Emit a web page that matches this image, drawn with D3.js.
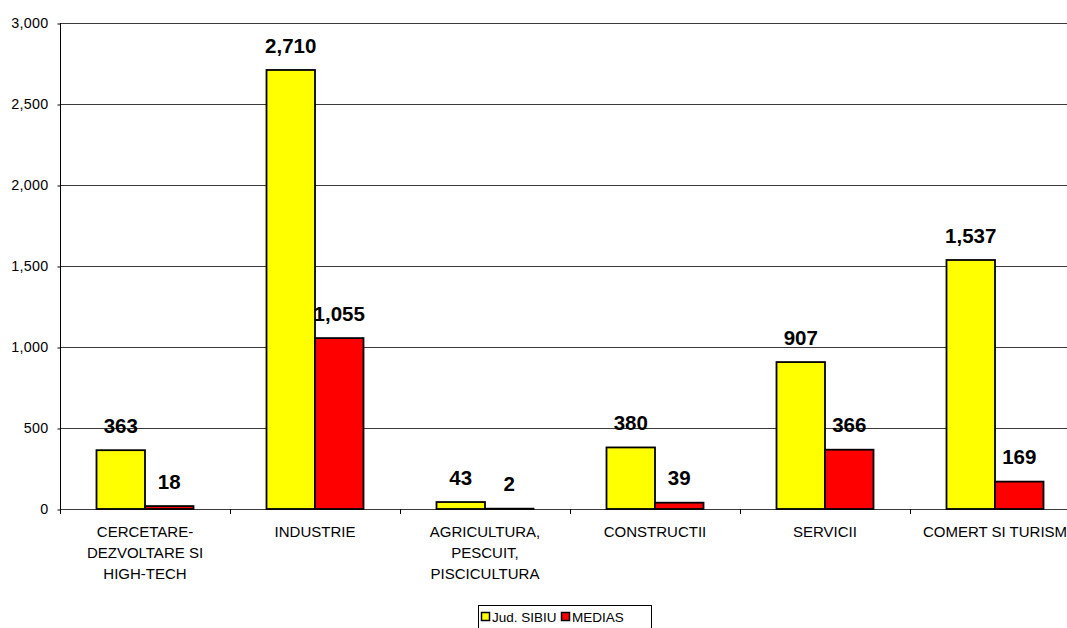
<!DOCTYPE html>
<html><head><meta charset="utf-8">
<script src="https://cdn.jsdelivr.net/npm/d3@7"></script>
<style>body{margin:0;background:#fff}svg{display:block}</style>
</head><body>
<svg id="c" width="1067" height="628"></svg>
<script>
const categories = [["CERCETARE-","DEZVOLTARE SI","HIGH-TECH"],["INDUSTRIE"],["AGRICULTURA,","PESCUIT,","PISCICULTURA"],["CONSTRUCTII"],["SERVICII"],["COMERT SI TURISM"]];
const seriesNames = ["Jud. SIBIU","MEDIAS"];
const sibiu = [363, 2710, 43, 380, 907, 1537];
const medias = [18, 1055, 2, 39, 366, 169];
const colors = ["#ffff00","#ff0000"];
const yTicks = [0,500,1000,1500,2000,2500,3000];

(function(){
const svg = d3.select("#c");
const left = 60, bandW = 170, plotBottom = 509, plotTop = 23;
const keys = d3.range(categories.length);
const x = d3.scaleBand().domain(keys).range([left, left + bandW*keys.length]).paddingInner(0).paddingOuter(0);
const x1 = d3.scaleBand().domain([0,1]).range([36.5, bandW-36.5]);
const y = d3.scaleLinear().domain([0,3000]).range([plotBottom, plotTop]);
const fmt = d3.format(",");
const font = "'Liberation Sans', Arial, sans-serif";

// gridlines
svg.append("g").selectAll("line").data(yTicks).join("line")
  .attr("x1", left).attr("x2", x.range()[1])
  .attr("y1", d=>y(d)+0.5).attr("y2", d=>y(d)+0.5)
  .attr("stroke", "#3a3a3a").attr("stroke-width", 1);

// y axis
const ya = svg.append("g").attr("transform", `translate(${left+0.5},0)`)
  .call(d3.axisLeft(y).tickValues(yTicks).tickFormat(fmt).tickSize(3).tickPadding(9));
ya.select(".domain").attr("stroke","#000").attr("d", `M0,${plotTop}V${plotBottom+0.5}`);
ya.selectAll(".tick line").attr("stroke","#000").attr("transform","translate(0,0.5)");
ya.selectAll("text").attr("font-family", font).attr("font-size", 14.3).attr("letter-spacing", 0.3).attr("fill","#000");

// x axis ticks (between categories)
svg.append("g").selectAll("line").data(d3.range(keys.length+1)).join("line")
  .attr("x1", d=>left + d*bandW + 0.5).attr("x2", d=>left + d*bandW + 0.5)
  .attr("y1", plotBottom).attr("y2", plotBottom+5).attr("stroke","#000");

// bars
const series = [sibiu, medias];
const g = svg.append("g");
series.forEach((vals, si) => {
  g.selectAll(null).data(vals).join("rect")
    .attr("x", (d,i)=>x(i)+x1(si))
    .attr("y", d=>y(d))
    .attr("width", x1.bandwidth())
    .attr("height", d=>plotBottom - y(d))
    .attr("fill", colors[si]).attr("stroke","#000").attr("stroke-width",1.8);
  g.selectAll(null).data(vals).join("text")
    .attr("x", (d,i)=>x(i)+x1(si)+x1.bandwidth()/2)
    .attr("y", d=>y(d)-17.3)
    .attr("text-anchor","middle")
    .attr("font-family", font).attr("font-weight","bold").attr("font-size",20.5)
    .text(d=>fmt(d));
});

// category labels
const cl = svg.append("g");
categories.forEach((lines,i)=>{
  const t = cl.append("text").attr("text-anchor","middle")
    .attr("font-family", font).attr("font-size",15).attr("fill","#000");
  lines.forEach((ln,j)=>{
    t.append("tspan").attr("x", x(i)+bandW/2).attr("y", 536.5 + j*21).text(ln);
  });
});

// legend
const lg = svg.append("g");
lg.append("rect").attr("x",478.5).attr("y",605.5).attr("width",173).attr("height",30)
  .attr("fill","#fff").attr("stroke","#000").attr("stroke-width",1);
const legX = [481, 561];
seriesNames.forEach((n,i)=>{
  lg.append("rect").attr("x",legX[i]+0.5).attr("y",612.5).attr("width",8).attr("height",8)
    .attr("fill",colors[i]).attr("stroke","#000").attr("stroke-width",1.5);
  lg.append("text").attr("x",legX[i]+11).attr("y",621.5)
    .attr("font-family",font).attr("font-size",13.5).text(n);
});
})();
</script>
</body></html>
